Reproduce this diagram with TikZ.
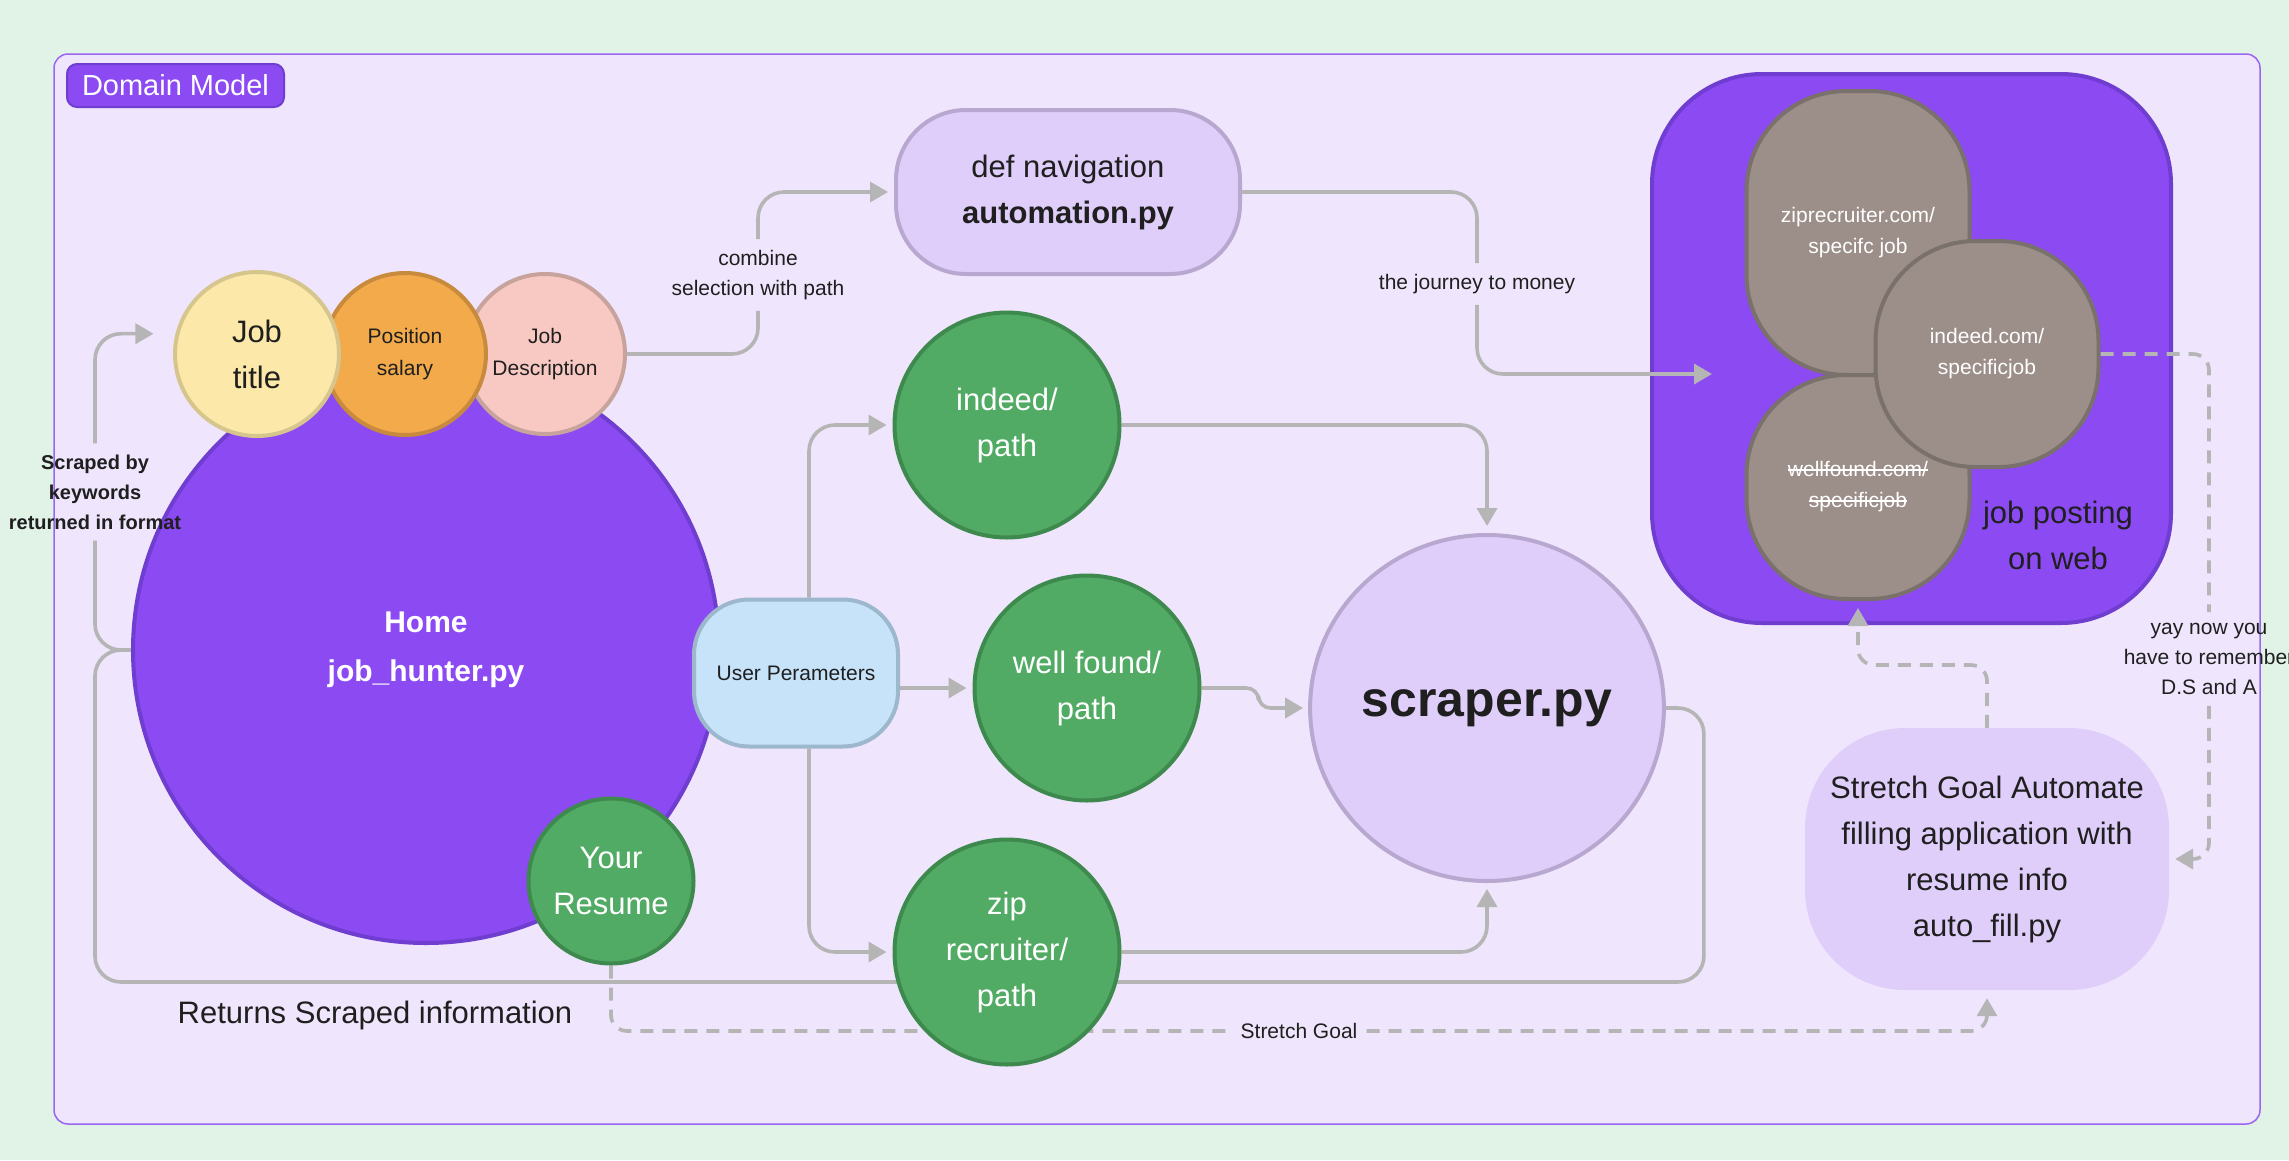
\documentclass[tikz,border=0pt]{standalone}
\usepackage{fontspec}
\setmainfont{Liberation Sans}
\usepackage{tikz}
\usetikzlibrary{
        arrows.meta,
        backgrounds,
        positioning,
        shapes.geometric
    }
\definecolor{bggreen}{HTML}{E1F2E7}
\definecolor{framebg}{HTML}{EFE5FC}
\definecolor{frameline}{HTML}{9966F2}
\definecolor{grape}{HTML}{8C4AF3}
\definecolor{grapeedge}{HTML}{6F3DD0}
\definecolor{lilac}{HTML}{E0CEFA}
\definecolor{lilacedge}{HTML}{B8A8D0}
\definecolor{leaf}{HTML}{52AB64}
\definecolor{leafedge}{HTML}{3E8A4E}
\definecolor{sky}{HTML}{C6E3FA}
\definecolor{skyedge}{HTML}{9DB7CD}
\definecolor{butter}{HTML}{FCE9A9}
\definecolor{butteredge}{HTML}{D6C68D}
\definecolor{tangerine}{HTML}{F2AA4A}
\definecolor{tangerineedge}{HTML}{C88A3C}
\definecolor{blush}{HTML}{F7C9C2}
\definecolor{blushedge}{HTML}{C8A29C}
\definecolor{taupe}{HTML}{9C8E89}
\definecolor{taupeedge}{HTML}{7A706C}
\definecolor{wire}{HTML}{B5B5B5}
\definecolor{ink}{HTML}{1F1F1F}
\newcommand{\bigtxt}{\fontsize{31}{46}\selectfont}
\newcommand{\bigbold}{\fontsize{30}{49}\selectfont\bfseries}
\newcommand{\hugebold}{\fontsize{50}{60}\selectfont\bfseries}
\newcommand{\midtxt}{\fontsize{21}{32}\selectfont}
\newcommand{\lbltxt}{\fontsize{21}{30}\selectfont}
\newcommand{\lblbold}{\fontsize{20}{30}\selectfont\bfseries}
\newcommand{\pilltxt}{\fontsize{21}{31}\selectfont}
\newcommand{\tagtxt}{\fontsize{29}{34}\selectfont}
\newlength{\strklen}
\newcommand{\strk}[1]{\settowidth{\strklen}{#1}\makebox[0pt][l]{#1}\rule[0.3em]{\strklen}{1.6pt}}
\tikzset{>={Triangle[length=18pt,width=20pt]}}
\tikzset{
    conn/.style={draw=wire,line width=3.6pt,rounded corners=26pt},
    dconn/.style={conn,dash pattern=on 13pt off 9pt,rounded corners=16pt},
    bubble/.style={circle,draw,line width=4pt,inner sep=0pt,align=center,text=ink},
    greenbub/.style={bubble,fill=leaf,draw=leafedge,text=white,font=\bigtxt,minimum size=225pt},
    pill/.style={rectangle,rounded corners=100pt,draw=taupeedge,fill=taupe,line width=4pt,
        minimum width=223pt,text=white,font=\pilltxt,align=center},
    lbl/.style={inner xsep=9pt,inner ysep=11pt,align=center,text=ink,font=\lbltxt}
}

\begin{document}
\begin{tikzpicture}[x=1pt,y=-1pt]
            \useasboundingbox (0,0) rectangle (2289,1160);
            % home and its fields
            \node[bubble,fill=grape,draw=grapeedge,minimum size=586pt,text=white,font=\bigbold] (home) at (426,650) {Home\\job\_hunter.py};
            \node[bubble,fill=blush,draw=blushedge,minimum size=160pt,font=\midtxt] (desc) at (545,354) {Job\\Description};
            \node[bubble,fill=tangerine,draw=tangerineedge,minimum size=162pt,font=\midtxt] (salary) at (405,354) {Position\\salary};
            \node[bubble,fill=butter,draw=butteredge,minimum size=164pt,font=\bigtxt] (title) at (257,354) {Job\\title};
            \node[greenbub,minimum size=165pt] (resume) at (611,881) {Your\\Resume};
            \node[rectangle,rounded corners=55pt,draw=skyedge,fill=sky,line width=4pt,minimum width=204pt,
                minimum height=147pt,font=\midtxt,text=ink] (params) at (796,673) {User Perameters};
            % scraping
            \node[rectangle,rounded corners=70pt,draw=lilacedge,fill=lilac,line width=4pt,minimum width=344pt,
                minimum height=164pt,align=center,font=\bigtxt,text=ink] (nav) at (1068,192) {def navigation\\\textbf{automation.py}};
            \node[greenbub] (indeed) at (1007,425) {indeed/\\path};
            \node[greenbub] (wellfound) at (1087,688) {well found/\\path};
            \node[greenbub] (zip) at (1007,952) {zip\\recruiter/\\path};
            \node[ellipse,draw=lilacedge,fill=lilac,line width=4pt,minimum width=334pt,minimum height=346pt,
                inner sep=0pt,font=\hugebold,text=ink] (scraper) at (1487,708) {scraper.py};
            % postings
            \node[rectangle,rounded corners=110pt,draw=grapeedge,fill=grape,line width=4pt,minimum width=519pt,
                minimum height=549pt] (web) at (1911.5,348.5) {};
            \node[pill,minimum height=284pt] (zippost) at (1858,233) {ziprecruiter.com/\\specifc job};
            \node[pill,minimum height=224pt] (wfpost) at (1858,487) {\strk{wellfound.com/}\\\strk{specificjob}};
            \node[pill,minimum height=226pt] (inpost) at (1987,354) {indeed.com/\\specificjob};
            \node[font=\bigtxt,text=ink,align=center] (webtxt) at (2058,535) {job posting\\on web};
            \coordinate (webin) at (1712,374);
            \node[rectangle,rounded corners=100pt,fill=lilac,minimum width=364pt,minimum height=262pt,
                align=center,font=\bigtxt,text=ink] (autofill) at (1987,859) {Stretch Goal Automate\\filling application with\\resume info\\auto\_fill.py};
            % title and labels
            \node[rectangle,rounded corners=10pt,fill=grape,draw=grapeedge,line width=2pt,minimum width=217pt,
                minimum height=43pt,text=white,font=\tagtxt] (tag) at (175.5,85.5) {Domain Model};
            \node[lbl] (combine) at (758,275) {combine\\selection with path};
            \node[lbl] (journey) at (1477,284) {the journey to money};
            \node[lbl,font=\lblbold] (scrapedby) at (95,492) {Scraped by\\keywords\\returned in format};
            \node[font=\bigtxt,text=ink] (returns) at (375,1015) {Returns Scraped information};
            \node[lbl] (stretchlbl) at (1299,1031) {Stretch Goal};
            \node[lbl] (yay) at (2209,659) {yay now you\\have to remember\\D.S and A};
            % arrows over the postings
            \draw[conn] (nav.east) -| (journey.north);
            \draw[conn,->] (journey.south) |- (webin);
            \draw[dconn,->,shorten >=7pt] (autofill.north) |- ([yshift=-64pt]wfpost.south) -- (wfpost.south);
            \draw[dconn] (inpost.east) -| (yay.north);
            \draw[dconn,->,shorten >=6pt] (yay.south) |- (autofill.east);
            \begin{scope}[on background layer]
                \fill[bggreen] (0,0) rectangle (2289,1160);
                \draw[frameline,fill=framebg,line width=1.5pt,rounded corners=14pt] (54,54) rectangle (2260,1124);
            \end{scope}
            \begin{scope}[on background layer]
                \draw[conn] (desc.east) -| (combine.south);
                \draw[conn,->,shorten >=6pt] (combine.north) |- (nav.west);
                \draw[conn] (home.west) -| (scrapedby.south);
                \draw[conn,->,shorten >=22pt] (scrapedby.north) |- (title.166);
                \draw[conn] (home.west) -| (95,982) -| ([xshift=38pt]scraper.east) -- (scraper.east);
                \draw[conn,->,shorten >=6pt] ([xshift=13pt]params.north) |- (indeed.west);
                \draw[conn,->,shorten >=6pt] ([xshift=13pt]params.south) |- (zip.west);
                \draw[conn,->,shorten >=6pt] (params.east |- wellfound.west) -- (wellfound.west);
                \draw[conn,->,shorten >=7pt] (indeed.east) -| (scraper.north);
                \draw[conn,->,shorten >=5pt,rounded corners=12pt] (wellfound.east) -- ++(57,0) |- (scraper.west);
                \draw[conn,->,shorten >=6pt] (zip.east) -| (scraper.south);
                \draw[dconn] (resume.south) |- (stretchlbl.west);
                \draw[dconn,->,shorten >=8pt] (stretchlbl.east) -| (autofill.south);
            \end{scope}
        \end{tikzpicture}
\end{document}
